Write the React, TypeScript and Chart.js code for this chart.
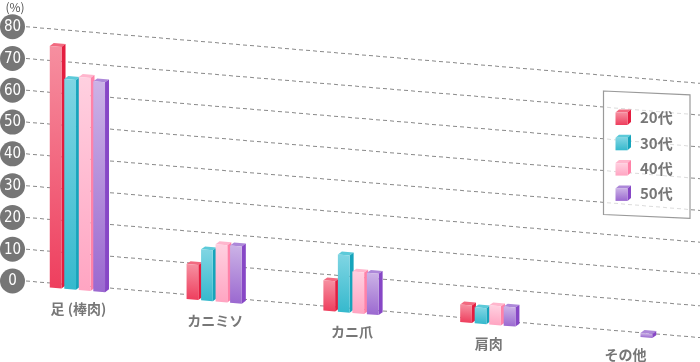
import React, { useEffect, useRef } from 'react';
import { Chart, registerables } from 'chart.js';

Chart.register(...registerables);

// ---------- data ----------
const categories = ['足 (棒肉)', 'カニミソ', 'カニ爪', '肩肉', 'その他'];
const seriesLabels = ['20代', '30代', '40代', '50代'];
const age20 = [76, 11, 9.5, 5.5, 0];
const age30 = [66, 16, 18, 5, 0];
const age40 = [67, 18, 13, 6, 0];
const age50 = [66, 18, 13, 6, 1.3];
const yTicks = [0, 10, 20, 30, 40, 50, 60, 70, 80];
const yUnit = '(%)';

// ---------- styles ----------
const palette = [
  { light: '#f68fa0', dark: '#ee3f5e', side: '#e41d3f', top: '#f26a80' },
  { light: '#7fd5e3', dark: '#36b9cd', side: '#16a4bb', top: '#5ccad9' },
  { light: '#ffd0e0', dark: '#ffa5c2', side: '#ff82a8', top: '#ffb6cd' },
  { light: '#cbb2e6', dark: '#9b69d0', side: '#8747c6', top: '#ad88d9' },
];

const K = 0.084; // perspective slope
const X0 = 26;
const DX = 4;
const DY = -3.2;
const FRONT_DY = 4.5;
const FONT = '"Noto Sans CJK JP", "Noto Sans", sans-serif';

function skew(ctx: CanvasRenderingContext2D) {
  ctx.transform(1, K, 0, 1, 0, -K * X0);
}

function drawBox(
  ctx: CanvasRenderingContext2D,
  l: number, t: number, r: number, b: number,
  c: { light: string; dark: string; side: string; top: string },
  dx: number, dy: number
) {
  ctx.beginPath();
  ctx.moveTo(l, t);
  ctx.lineTo(l + dx, t + dy);
  ctx.lineTo(r + dx, t + dy);
  ctx.lineTo(r, t);
  ctx.closePath();
  ctx.fillStyle = c.top;
  ctx.fill();
  ctx.beginPath();
  ctx.moveTo(r, t);
  ctx.lineTo(r + dx, t + dy);
  ctx.lineTo(r + dx, b + dy);
  ctx.lineTo(r, b);
  ctx.closePath();
  ctx.fillStyle = c.side;
  ctx.fill();
  const g = ctx.createLinearGradient(0, t, 0, b);
  g.addColorStop(0, c.light);
  g.addColorStop(1, c.dark);
  ctx.fillStyle = g;
  ctx.fillRect(l, t, r - l, b - t);
}

const perspectivePlugin = {
  id: 'perspective',
  beforeDatasetsDraw(chart: any) {
    const ctx: CanvasRenderingContext2D = chart.ctx;
    const yScale = chart.scales.y;
    // grid lines
    ctx.save();
    skew(ctx);
    ctx.setLineDash([4, 3]);
    ctx.strokeStyle = '#8a8a8a';
    ctx.lineWidth = 1;
    yTicks.forEach((v) => {
      const y = yScale.getPixelForValue(v);
      ctx.beginPath();
      ctx.moveTo(X0, y);
      ctx.lineTo(chart.width, y);
      ctx.stroke();
    });
    ctx.setLineDash([]);
    // bars
    chart.data.datasets.forEach((ds: any, di: number) => {
      const meta = chart.getDatasetMeta(di);
      meta.data.forEach((el: any, i: number) => {
        const v = ds.data[i];
        if (!v) return;
        const p = el.getProps(['x', 'y', 'base', 'width'], true);
        const l = p.x - p.width / 2;
        const r = p.x + p.width / 2;
        const t = p.y + FRONT_DY;
        const b = p.base + FRONT_DY;
        drawBox(ctx, l, t, r, b, palette[di], DX, DY);
      });
    });
    ctx.restore();
    return false;
  },
  afterDraw(chart: any) {
    const ctx: CanvasRenderingContext2D = chart.ctx;
    const yScale = chart.scales.y;
    const xScale = chart.scales.x;
    ctx.save();
    // y axis circles
    yTicks.forEach((v) => {
      const y = yScale.getPixelForValue(v);
      ctx.beginPath();
      ctx.arc(12.5, y, 12.5, 0, Math.PI * 2);
      ctx.fillStyle = '#767676';
      ctx.fill();
      ctx.fillStyle = '#ffffff';
      ctx.font = '15px "Liberation Sans Narrow", "DejaVu Sans Condensed", sans-serif';
      ctx.textAlign = 'center';
      ctx.textBaseline = 'middle';
      ctx.fillText(String(v), 12.5, y + 0.5);
    });
    // unit
    ctx.fillStyle = '#555';
    ctx.font = '12px ' + FONT;
    ctx.textAlign = 'center';
    ctx.textBaseline = 'middle';
    ctx.fillText(yUnit, 15, 7.5);
    // category labels
    const y0 = yScale.getPixelForValue(0);
    ctx.fillStyle = '#777';
    ctx.font = 'bold 14px ' + FONT;
    categories.forEach((c, i) => {
      const x = xScale.getPixelForValue(i);
      const y = y0 + K * (x - X0) + 23.5;
      ctx.fillText(c, x + 1, y);
    });
    // legend box
    const LK = 0.045;
    const bl = 603.5, br = 690, bt = 91, bb = 214.5;
    ctx.beginPath();
    ctx.moveTo(bl, bt);
    ctx.lineTo(br, bt + LK * (br - bl));
    ctx.lineTo(br, bb + LK * (br - bl));
    ctx.lineTo(bl, bb);
    ctx.closePath();
    ctx.fillStyle = 'rgba(255,255,255,0.7)';
    ctx.fill();
    ctx.strokeStyle = '#9a9a9a';
    ctx.lineWidth = 1.2;
    ctx.stroke();
    chart.data.datasets.forEach((ds: any, di: number) => {
      const cy = 117 + di * 25.3;
      drawBox(ctx, 615.5, cy - 4.5, 627.5, cy + 8, palette[di], 3.5, -3);
      ctx.fillStyle = '#777';
      ctx.font = 'bold 15px ' + FONT;
      ctx.textAlign = 'left';
      ctx.textBaseline = 'middle';
      ctx.fillText(ds.label, 640, cy + 0.5);
    });
    ctx.restore();
  },
};

export default function App() {
  const ref = useRef<HTMLCanvasElement | null>(null);
  useEffect(() => {
    if (!ref.current) return;
    const series = [age20, age30, age40, age50];
    const chart = new Chart(ref.current, {
      type: 'bar',
      data: {
        labels: categories,
        datasets: series.map((d, i) => ({
          label: seriesLabels[i],
          data: d,
          backgroundColor: palette[i].dark,
          categoryPercentage: 0.424,
          barPercentage: 0.81,
        })),
      },
      options: {
        responsive: false,
        animation: false,
        devicePixelRatio: 1,
        layout: { padding: { left: 9, right: 7, top: 26.7, bottom: 81 } },
        plugins: { legend: { display: false }, tooltip: { enabled: false } },
        scales: {
          x: { display: false },
          y: { display: false, min: 0, max: 80 },
        },
      },
      plugins: [perspectivePlugin],
    });
    return () => chart.destroy();
  }, []);
  return (
    <div style={{ position: 'fixed', left: 0, top: 0, width: 700, height: 362, background: '#fff' }}>
      <canvas ref={ref} width={700} height={362} style={{ width: 700, height: 362, display: 'block' }} />
    </div>
  );
}
